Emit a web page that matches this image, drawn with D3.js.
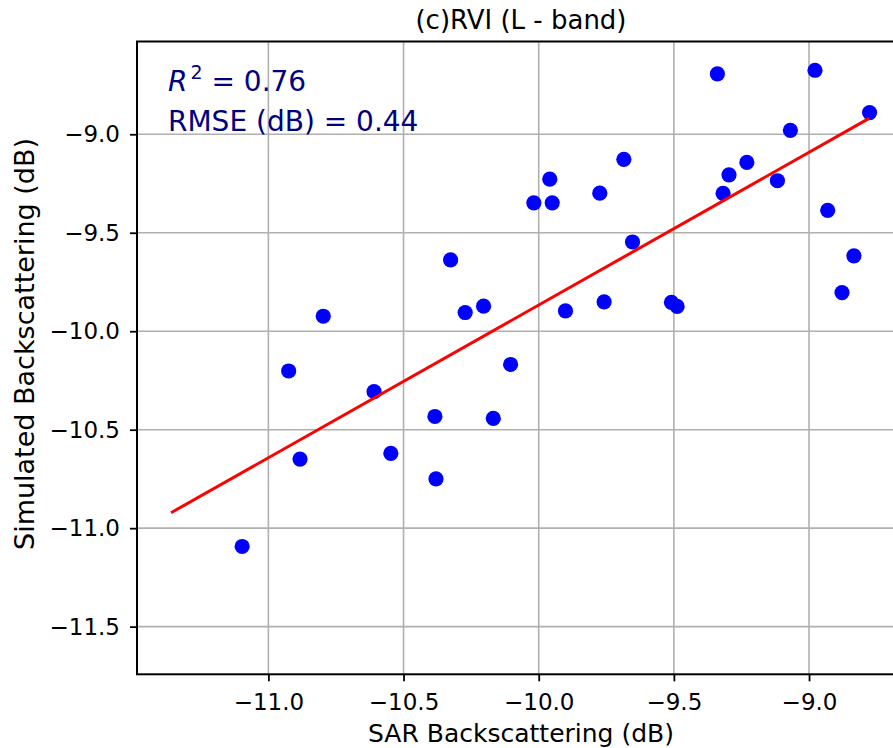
<!DOCTYPE html>
<html>
<head>
<meta charset="utf-8">
<script src="https://cdn.jsdelivr.net/npm/d3@7"></script>
<style>
  body { margin: 0; background: #fff; }
  svg { display: block; font-family: "DejaVu Sans", sans-serif; }
</style>
</head>
<body>
<div id="chart-area"></div>
<script>
// SAR observed vs simulated backscattering (dB)
var sarX = [-11.097, -10.925, -10.883, -10.797, -10.609, -10.547, -10.384, -10.380,
            -10.326, -10.272, -10.204, -10.168, -10.104, -10.018, -9.959, -9.950,
            -9.901, -9.774, -9.758, -9.685, -9.653, -9.509, -9.488, -9.339,
            -9.318, -9.296, -9.230, -9.117, -9.069, -8.978, -8.931, -8.878,
            -8.834, -8.776];
var simY = [-11.093, -10.202, -10.649, -9.924, -10.307, -10.620, -10.433, -10.750,
            -9.638, -9.905, -9.873, -10.443, -10.169, -9.348, -9.228, -9.348,
            -9.897, -9.299, -9.851, -9.127, -9.547, -9.854, -9.874, -8.693,
            -9.300, -9.206, -9.143, -9.236, -8.980, -8.675, -9.386, -9.804,
            -9.617, -8.890];

// linear fit
var fitSlope = 0.7754;
var fitIntercept = -2.113;
var fitRange = [-11.36, -8.778];

var xTicks = [-11.0, -10.5, -10.0, -9.5, -9.0];
var yTicks = [-11.5, -11.0, -10.5, -10.0, -9.5, -9.0];
var xDomain = [-11.486, -8.645];
var yDomain = [-11.742, -8.529];

var statLines = ["0.76", "0.44"];

var W = 893, H = 748;
var margin = { left: 137, top: 41.5, right: -12, bottom: 73.7 };
var width = W - margin.left - margin.right;
var height = H - margin.top - margin.bottom;

var svg = d3.select("#chart-area").append("svg")
  .attr("width", W)
  .attr("height", H)
  .style("overflow", "hidden");

var g = svg.append("g")
  .attr("transform", "translate(" + margin.left + "," + margin.top + ")");

var x = d3.scaleLinear().domain(xDomain).range([0, width]);
var y = d3.scaleLinear().domain(yDomain).range([height, 0]);

// grid
g.append("g").selectAll("line.vg")
  .data(xTicks).enter().append("line")
    .attr("x1", function(d){ return x(d); })
    .attr("x2", function(d){ return x(d); })
    .attr("y1", 0).attr("y2", height)
    .attr("stroke", "#b0b0b0").attr("stroke-width", 1.6);
g.append("g").selectAll("line.hg")
  .data(yTicks).enter().append("line")
    .attr("y1", function(d){ return y(d); })
    .attr("y2", function(d){ return y(d); })
    .attr("x1", 0).attr("x2", width)
    .attr("stroke", "#b0b0b0").attr("stroke-width", 1.6);

// points
g.append("g").selectAll("circle")
  .data(sarX).enter().append("circle")
    .attr("cx", function(d){ return x(d); })
    .attr("cy", function(d, i){ return y(simY[i]); })
    .attr("r", 7.6)
    .attr("fill", "#0000ff");

// fit line
g.append("line")
  .attr("x1", x(fitRange[0]))
  .attr("y1", y(fitSlope * fitRange[0] + fitIntercept))
  .attr("x2", x(fitRange[1]))
  .attr("y2", y(fitSlope * fitRange[1] + fitIntercept))
  .attr("stroke", "#ff0000")
  .attr("stroke-width", 3);

// axes
var fmt = d3.format(".1f");
var xAxis = d3.axisBottom(x).tickValues(xTicks).tickFormat(fmt).tickSize(7).tickPadding(12);
var yAxis = d3.axisLeft(y).tickValues(yTicks).tickFormat(fmt).tickSize(7).tickPadding(10);

var gx = g.append("g")
  .attr("transform", "translate(0," + height + ")")
  .call(xAxis);
var gy = g.append("g").call(yAxis);

[gx, gy].forEach(function(a){
  a.select(".domain").remove();
  a.selectAll(".tick line").attr("stroke", "#000").attr("stroke-width", 1.8);
  a.selectAll(".tick text")
    .attr("fill", "#000")
    .attr("font-family", "DejaVu Sans")
    .attr("font-size", "23px");
});

// frame
g.append("rect")
  .attr("x", 0).attr("y", 0)
  .attr("width", width).attr("height", height)
  .attr("fill", "none")
  .attr("stroke", "#000")
  .attr("stroke-width", 2);

// title
g.append("text")
  .attr("x", width / 2)
  .attr("y", -13)
  .attr("text-anchor", "middle")
  .attr("font-size", "26px")
  .attr("fill", "#000")
  .text("(c)RVI (L - band)");

// axis labels
g.append("text")
  .attr("x", width / 2)
  .attr("y", height + 68)
  .attr("text-anchor", "middle")
  .attr("font-size", "25px")
  .attr("fill", "#000")
  .text("SAR Backscattering (dB)");

g.append("text")
  .attr("transform", "rotate(-90)")
  .attr("x", -(344 - margin.top))
  .attr("y", 34 - margin.left)
  .attr("text-anchor", "middle")
  .attr("font-size", "27px")
  .attr("fill", "#000")
  .text("Simulated Backscattering (dB)");

// stats
var r2 = g.append("text")
  .attr("x", 168 - margin.left)
  .attr("y", 91 - margin.top)
  .attr("font-size", "28px")
  .attr("fill", "#000080");
r2.append("tspan").attr("font-style", "italic").text("R");
r2.append("tspan").attr("font-size", "19px").attr("dx", 3).attr("dy", -12).text("2");
r2.append("tspan").attr("dy", 12).text(" = " + statLines[0]);

g.append("text")
  .attr("x", 168 - margin.left)
  .attr("y", 131 - margin.top)
  .attr("font-size", "28px")
  .attr("fill", "#000080")
  .text("RMSE (dB) = " + statLines[1]);
</script>
</body>
</html>
